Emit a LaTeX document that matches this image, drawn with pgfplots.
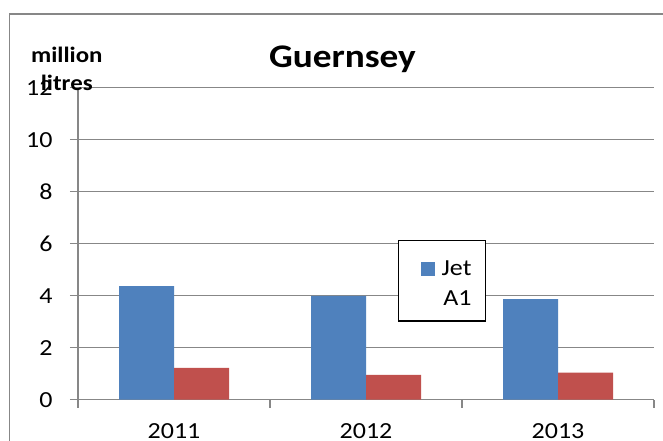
\documentclass[border=0pt]{standalone}
\usepackage{fontspec}
\setmainfont{Carlito}[FakeStretch=1.13]
\usepackage{pgfplots}
\pgfplotsset{compat=1.18}
\definecolor{jetblue}{HTML}{4F81BD}
\definecolor{a1red}{HTML}{C0504D}
\definecolor{gridgray}{HTML}{878787}
\begin{document}
\begin{tikzpicture}[x=1pt,y=1pt]
\useasboundingbox (0,0) rectangle (663,441);
\clip (0,0) rectangle (663,441);
\fill[white] (0,0) rectangle (663,441);
\draw[gridgray, line width=1.5pt] (9.5,-20) rectangle (680,427);
\begin{axis}[
  at={(78pt,41.3pt)}, anchor=south west,
  scale only axis, width=576pt, height=312pt,
  xmin=-0.5, xmax=2.5, ymin=0, ymax=12,
  ybar=0pt, bar width=55pt,
  axis x line*=bottom, axis y line*=left,
  axis line style={gridgray, line width=1.5pt, -},
  ymajorgrids, grid style={gridgray, line width=1.5pt},
  ytick={0,2,...,12},
  xtick={-0.5,0.5,1.5,2.5}, xticklabels={},
  extra x ticks={0,1,2}, extra x tick labels={2011,2012,2013},
  extra x tick style={major tick length=0pt, grid=none},
  tick align=outside, major tick length=8pt,
  tick style={gridgray, line width=1.5pt},
  /pgf/number format/assume math mode=true,
  tick label style={font=\fontsize{23}{28}\selectfont},
  yticklabel style={xshift=-14pt},
  xticklabel style={yshift=-20pt},
  title={Guernsey},
  title style={font=\bfseries\fontsize{33}{40}\selectfont, at={(axis description cs:0.459,1.044)}, anchor=base},
  ylabel={million\\litres},
  ylabel style={rotate=-90, align=center, font=\bfseries\fontsize{22}{28}\selectfont, at={(axis description cs:-0.0195,1.06)}, anchor=center},
  legend style={at={(axis description cs:0.5556,0.512)}, anchor=north west, draw=black, line width=1.3pt,
    font=\fontsize{23}{30}\selectfont, inner xsep=12pt, inner ysep=12pt,
    column sep=5pt, cells={inner sep=0pt}},
  legend image code/.code={\fill[#1] (0pt,4.5pt) rectangle (14pt,18.5pt); \path (-10pt,-23pt) (14pt,23pt);},
]
\addplot[fill=jetblue, draw=none] coordinates {(0,4.37) (1,3.99) (2,3.87)};
\addlegendentry{\begin{tabular}[b]{@{}r@{}}Jet\\A1\end{tabular}}
\addplot[fill=a1red, draw=none] coordinates {(0,1.22) (1,0.95) (2,1.04)};
\end{axis}
\end{tikzpicture}
\end{document}
